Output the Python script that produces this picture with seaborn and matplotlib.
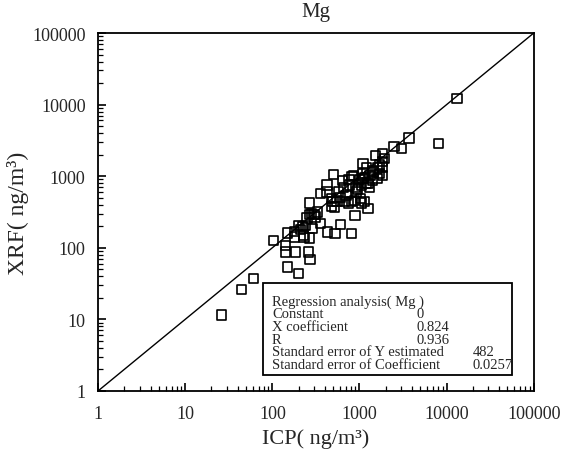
import pandas as pd
import matplotlib.pyplot as plt
import seaborn as sns
from matplotlib.ticker import LogLocator, FixedLocator, NullFormatter

# ICP vs XRF concentrations of Mg (ng/m3)
icp = [26, 44, 61, 103, 141, 141, 148, 150, 183, 198, 180, 200, 228, 240,
       260, 265, 270, 265, 265, 290, 300, 330, 355, 355, 424, 424, 432, 475,
       495, 525, 500, 575, 610, 640, 670, 700, 770, 810, 810, 850, 890, 930,
       1030, 1090, 1150, 1100, 1250, 1250, 1320, 1450, 1530, 1600, 1690, 1850,
       1850, 1850, 1850, 1950, 2500, 3050, 3700, 8100, 13200,
       760, 820, 900, 1000, 1100, 1200, 1300, 950, 1050, 1150, 600, 550, 480,
       520, 1400, 1600, 1700, 650, 750, 870, 1050, 1400, 1200,
       220, 250, 280, 230, 210, 310, 180]
xrf = [11.5, 26, 37, 125, 108, 87, 160, 54, 87, 44, 141, 205, 148, 205,
       87, 137, 68, 420, 290, 185, 290, 315, 217, 575, 750, 600, 166, 490,
       440, 157, 1050, 600, 210, 880, 440, 540, 750, 440, 157, 1020, 280, 600,
       490, 930, 440, 1500, 350, 790, 1020, 1140, 1950, 930, 1430, 1590,
       2060, 1020, 1350, 1770, 2600, 2450, 3400, 2850, 12300,
       900, 1000, 700, 900, 1100, 800, 700, 650, 750, 950, 500, 450, 380,
       370, 1200, 1300, 1100, 700, 420, 460, 420, 880, 1300,
       200, 260, 300, 140, 180, 270, 170]

reg_labels = ["Constant", "X coefficient", "R",
              "Standard error of Y estimated", "Standard error of Coefficient"]
reg_values = ["0", "0.824", "0.936", "482", "0.0257"]

df = pd.DataFrame({"ICP": icp, "XRF": xrf})

sns.set_style("white")
plt.rcParams["font.family"] = ["Liberation Serif", "DejaVu Serif"]

fig = plt.figure(figsize=(5.77, 4.60), dpi=100)
ax = fig.add_axes([0.170, 0.148, 0.755, 0.778])

# 1:1 line
ax.plot([1, 100000], [1, 100000], color="black", linewidth=1.0)

sns.scatterplot(data=df, x="ICP", y="XRF", marker="s", s=45,
                facecolor="none", edgecolor="black", linewidth=1.2, ax=ax,
                zorder=3)

ax.set_xscale("log")
ax.set_yscale("log")
ax.set_xlim(1, 100000)
ax.set_ylim(1, 100000)

decades = [1, 10, 100, 1000, 10000, 100000]
ax.xaxis.set_major_locator(FixedLocator(decades))
ax.yaxis.set_major_locator(FixedLocator(decades))
ax.set_xticklabels([str(d) for d in decades])
ax.set_yticklabels([str(d) for d in decades])
ax.xaxis.set_minor_locator(LogLocator(base=10, subs=range(2, 10), numticks=20))
ax.yaxis.set_minor_locator(LogLocator(base=10, subs=range(2, 10), numticks=20))
ax.xaxis.set_minor_formatter(NullFormatter())
ax.yaxis.set_minor_formatter(NullFormatter())
ax.tick_params(which="both", direction="in", bottom=True, left=True,
               top=False, right=False, color="black")
ax.tick_params(which="major", length=6, width=1.2, labelsize=13)
ax.tick_params(axis="y", which="major", pad=9)
ax.tick_params(axis="x", which="major", pad=10)
ax.tick_params(which="minor", length=3.5, width=0.9)

for sp in ax.spines.values():
    sp.set_color("black")
    sp.set_linewidth(1.3)

ax.set_title("Mg", fontsize=15, pad=12)
ax.set_xlabel("ICP( ng/m³)", fontsize=16, labelpad=5)
ax.set_ylabel("XRF( ng/m³)", fontsize=17, labelpad=2)

# regression summary box
box = plt.Rectangle((0.378, 0.044), 0.571, 0.258, transform=ax.transAxes,
                    facecolor="white", edgecolor="black", linewidth=1.3,
                    zorder=4)
ax.add_patch(box)
y0 = 0.251
step = 0.0355
ax.text(0.399, y0, "Regression analysis( Mg )", transform=ax.transAxes,
        fontsize=10.5, va="center", zorder=5)
for i, (lab, val) in enumerate(zip(reg_labels, reg_values)):
    yy = y0 - (i + 1) * step
    ax.text(0.399, yy, lab, transform=ax.transAxes, fontsize=10.5,
            va="center", zorder=5)
    vx = 0.732 if i < 3 else 0.860
    ax.text(vx, yy, val, transform=ax.transAxes, fontsize=10.5,
            va="center", zorder=5)

fig.savefig("out.png", dpi=100)
